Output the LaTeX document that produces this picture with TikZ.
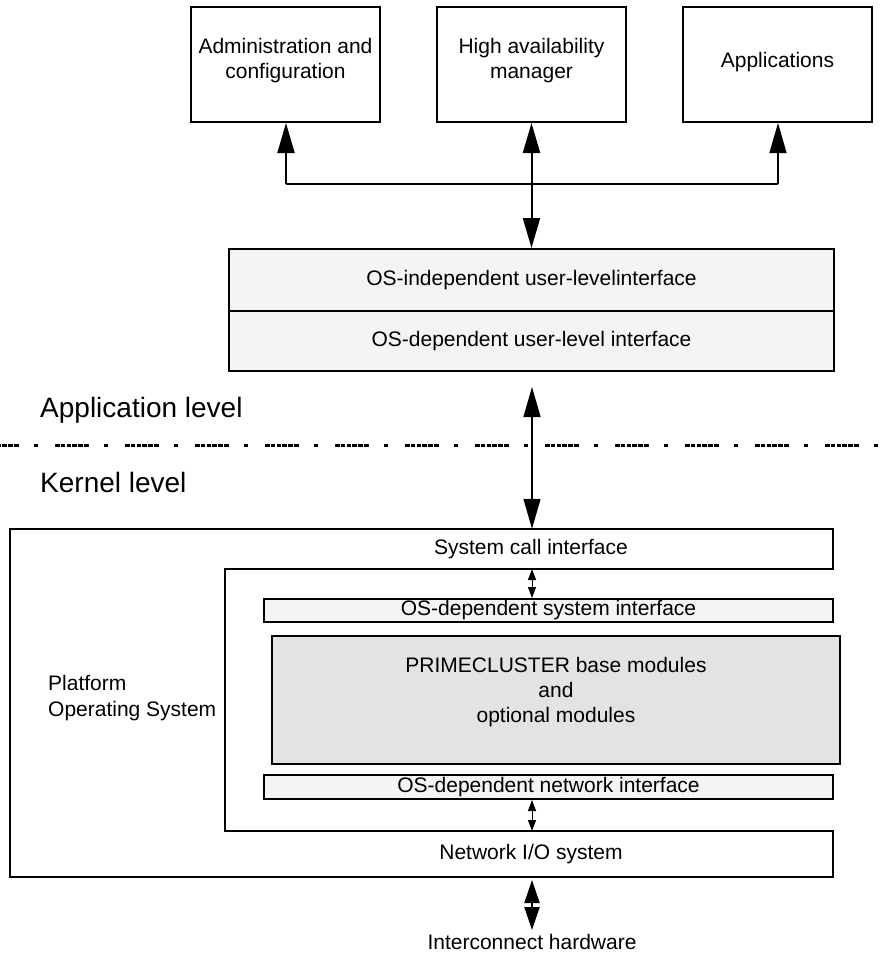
\documentclass[tikz,border=0pt]{standalone}
\usepackage{fontspec}
\setmainfont{Liberation Sans}
\usetikzlibrary{arrows.meta}
\definecolor{lightfill}{HTML}{F4F4F4}
\definecolor{grayfill}{HTML}{E3E3E3}
\begin{document}
\begin{tikzpicture}[x=1pt,y=-1pt,
  box/.style={draw, line width=2pt, inner sep=0pt},
  lbl/.style={font=\fontsize{21}{25}\selectfont, inner sep=0pt, align=center},
  biglbl/.style={font=\fontsize{28}{32}\selectfont, inner sep=0pt, anchor=west},
  bigtip/.tip={Triangle[width=17pt,length=30pt]},
  midtip/.tip={Triangle[width=15pt,length=23pt]},
  smalltip/.tip={Triangle[width=8pt,length=11pt]},
  conn/.style={line width=2pt},
  thinconn/.style={line width=1.3pt},
  levelline/.style={line width=3pt, dash pattern=on 4.5pt off 1.3pt on 4.5pt off 1.3pt on 4.5pt off 1.3pt on 4.5pt off 1.3pt on 4.5pt off 1.3pt on 4.5pt off 15.5pt on 4pt off 17pt, dash phase=15pt}
]
\useasboundingbox (0,0) rectangle (879,959);

% top boxes
\node[box, minimum width=189pt, minimum height=115pt] (admin) at (285.5,64.5) {};
\node[box, minimum width=189pt, minimum height=115pt] (ha) at (531.5,64.5) {};
\node[box, minimum width=189pt, minimum height=115pt] (apps) at (777.5,64.5) {};
\node[lbl] (admintxt) at (285.5,61) {Administration and\\configuration};
\node[lbl] (hatxt) at (531.5,61) {High availability\\manager};
\node[lbl] (appstxt) at (777.5,62) {Applications};

% user-level interface box
\node[box, fill=lightfill, minimum width=605pt, minimum height=122pt] (ulbox) at (531.5,310) {};
\draw[line width=2pt] (ulbox.west |- 0,311) -- (ulbox.east |- 0,311);
\node[lbl] (ulind) at (531.5,280) {OS-independent user-levelinterface};
\node[lbl] (uldep) at (531.5,341) {OS-dependent user-level interface};

% bus
\coordinate (busL) at (286,184);
\coordinate (busR) at (778,184);
\draw[conn] (busL) -- (busR);
\draw[conn, -bigtip] (busL) -- (busL |- admin.south);
\draw[thinconn, -bigtip] (busR) -- (busR |- apps.south);
\draw[conn, bigtip-bigtip] (ha.south) -- (ulbox.north);

% level separator
\draw[levelline] (0,445) -- (879,445);
\node[biglbl] (applevel) at (40,410) {Application level};
\node[biglbl] (kernlevel) at (40,482) {Kernel level};

% platform OS outline
\draw[line width=2pt] (10,529) -- (833,529) -- (833,569) -- (225,569) -- (225,831) -- (833,831) -- (833,877) -- (10,877) -- cycle;
\node[inner sep=0pt, minimum width=823pt, minimum height=40pt] (sysstrip) at (421.5,549) {};
\node[inner sep=0pt, minimum width=823pt, minimum height=46pt] (netstrip) at (421.5,854) {};
\node[lbl] (systxt) at (531,549) {System call interface};
\node[lbl] (nettxt) at (531,854) {Network I/O system};
\node[lbl, align=left, anchor=west, font=\fontsize{21}{26}\selectfont] (plattxt) at (48,698) {Platform\\Operating System};

% inner boxes
\node[box, fill=lightfill, minimum width=569pt, minimum height=23pt] (osys) at (548.5,610.5) {};
\node[lbl] (osystxt) at (548.5,610.5) {OS-dependent system interface};
\node[box, fill=grayfill, minimum width=568pt, minimum height=128pt] (pcl) at (556,700) {};
\node[lbl] (pcltxt) at (556,692) {PRIMECLUSTER base modules\\and\\optional modules};
\node[box, fill=lightfill, minimum width=569pt, minimum height=24pt] (onet) at (548.5,787) {};
\node[lbl] (onettxt) at (548.5,787) {OS-dependent network interface};

% kernel arrows
\coordinate (kup) at (532,387);
\coordinate (sa1) at (532,569);
\coordinate (sa2) at (532,831);
\draw[thinconn, bigtip-bigtip] (kup) -- (kup |- sysstrip.north);
\draw[line width=1pt, smalltip-smalltip] (sa1) -- (sa1 |- osys.north);
\draw[line width=1pt, smalltip-smalltip] (sa2 |- onet.south) -- (sa2);
\coordinate (hwtop) at (532,880);
\coordinate (hwbot) at (532,930);
\node[lbl] (hwtxt) at (532,942) {Interconnect hardware};
\draw[conn, midtip-midtip] (hwtop) -- (hwbot);
\end{tikzpicture}
\end{document}
